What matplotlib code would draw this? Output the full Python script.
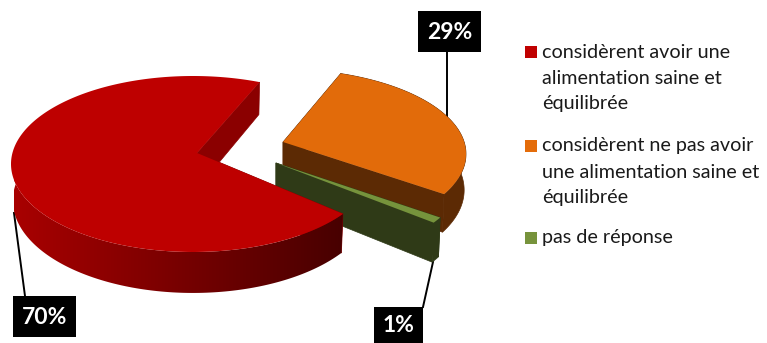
import matplotlib
matplotlib.use("Agg")
import matplotlib.pyplot as plt
import numpy as np
from matplotlib.patches import Polygon, Rectangle

# Donnees
categories = [
    ["considèrent avoir une", "alimentation saine et", "équilibrée"],
    ["considèrent ne pas avoir", "une alimentation saine et", "équilibrée"],
    ["pas de réponse"],
]
percents = [70, 29, 1]

# Couleurs
top_colors = ["#BE0000", "#E26B0A", "#76933C"]
legend_colors = ["#C00000", "#E46C0A", "#77933C"]
wall_colors = ["#8B0000", "#5C2A04", "#2F3A17"]

# centre x, centre y, rayon x, rayon y, angle de depart
red_shape = (193, 164, 182, 88, 41.0)
orange_shape = (281, 154, 185, 85, 291.0)
green_shape = (275, 176, 188, 87, 36.0)
shapes = [red_shape, orange_shape, green_shape]
# decalage du sommet par rapport au centre de l'ellipse (perspective)
tilts = [(0.022, -0.125), (0.011, -0.141), (0.005, -0.15)]


def boost(u, v, bx, by):
    # Transformation projective du disque unite, envoie le centre sur (bx, by)
    b2 = bx * bx + by * by
    g = 1 / np.sqrt(1 - b2)
    d = bx * u + by * v
    f = (g - 1) * d / b2 + g
    t = g * (1 + d)
    return (u + f * bx) / t, (v + f * by) / t


def rim(shape, tilt, angles):
    cx, cy, rx, ry, _ = shape
    a = np.radians(angles)
    u, v = boost(np.cos(a), np.sin(a), *tilt)
    return cx + rx * u, cy + ry * v


def apex(shape, tilt):
    return shape[0] + shape[2] * tilt[0], shape[1] + shape[3] * tilt[1]


def lower(x, y, cx):
    # Contour du bas de la part : plus epais vers l'avant
    return cx + (x - cx) * 0.99, y + 36 + 0.05 * (y - 153)


def draw_slice(ax, i, base, shaded=False):
    shape, tilt = shapes[i], tilts[i]
    start = shape[4]
    angles = np.linspace(start, start + percents[i] * 3.6, 240)
    x, y = rim(shape, tilt, angles)
    ax0, ay0 = apex(shape, tilt)
    bx, by = lower(x, y, shape[0])
    abx, aby = lower(ax0, ay0, shape[0])
    c = wall_colors[i]

    # Face de depart, cachee en grande partie
    ax.add_patch(Polygon(
        [[ax0, ay0], [x[0], y[0]], [bx[0], by[0]], [abx, aby]],
        fc=c, ec=c, lw=0.5, zorder=base
        ))

    # Bord courbe
    outline = np.column_stack([np.r_[x, bx[::-1]], np.r_[y, by[::-1]]])
    if shaded:
        # Degrade horizontal du rouge clair vers le rouge sombre
        ramp = np.zeros((1, 256, 3))
        ramp[0, :, 0] = np.linspace(0.66, 0.28, 256)
        clip = Polygon(outline, transform=ax.transData, fc="none", lw=0)
        ax.add_patch(clip)
        im = ax.imshow(
            ramp, extent=(14, 344, 300, 160), aspect="auto",
            interpolation="bilinear", zorder=base + 0.1
            )
        im.set_clip_path(clip)
    else:
        ax.add_patch(Polygon(outline, fc=c, ec=c, lw=0.5, zorder=base + 0.1))

    # Face de fin
    ax.add_patch(Polygon(
        [[ax0, ay0], [x[-1], y[-1]], [bx[-1], by[-1]], [abx, aby]],
        fc=c, ec=c, lw=0.5, zorder=base + 0.2
        ))

    # Dessus
    ax.add_patch(Polygon(
        np.column_stack([np.r_[ax0, x], np.r_[ay0, y]]),
        color=top_colors[i], lw=0, zorder=base + 0.3
        ))


fig = plt.figure(figsize=(7.67, 3.43), dpi=100)
ax = fig.add_axes([0, 0, 1, 1])

plt.rcParams["font.family"] = ["Lato", "DejaVu Sans"]

# Traits de rappel
ax.plot([14, 25], [213, 296], color="black", lw=1.4, zorder=0.5)
ax.plot([447, 447], [52, 119], color="black", lw=1.4, zorder=0.5)
ax.plot([433, 423], [262, 307], color="black", lw=1.4, zorder=0.5)

draw_slice(ax, 1, 1)
draw_slice(ax, 2, 2)
draw_slice(ax, 0, 3, shaded=True)

# Etiquettes
boxes = [(13, 296, 63, 41), (418, 11, 63, 41), (374, 307, 49, 36)]
for (bx0, by0, w, h), p in zip(boxes, percents):
    ax.add_patch(Rectangle((bx0, by0), w, h, color="black", lw=0, zorder=5))
    ax.text(
        bx0 + w / 2, by0 + h / 2 + 1, "{0}%".format(p),
        color="white", fontsize=16.5, fontweight="bold",
        ha="center", va="center", zorder=6
        )

# Legende
legend_y = [52, 146, 238]
for lines, y0, c in zip(categories, legend_y, legend_colors):
    ax.add_patch(Rectangle((525, y0 - 6), 12, 12, color=c, lw=0))
    for n, line in enumerate(lines):
        ax.text(
            542, y0 + n * 26, line, color="#1A1A1A", fontsize=14.2,
            ha="left", va="center"
            )

ax.set_xlim(0, 767)
ax.set_ylim(343, 0)
ax.axis("off")

fig.savefig("out.png", dpi=100)
